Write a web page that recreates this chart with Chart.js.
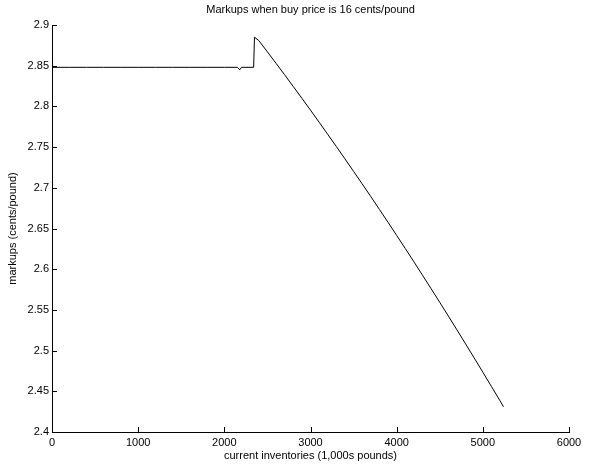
<!DOCTYPE html>
<html>
<head>
<meta charset="utf-8">
<script src="https://cdn.jsdelivr.net/npm/chart.js@4"></script>
<style>
  html, body { margin: 0; padding: 0; background: #fff; }
  #wrap { width: 592px; height: 466px; }
</style>
</head>
<body>
<div id="wrap"><canvas id="markupChart"></canvas></div>
<script>
// inventories (1,000s pounds) and markups (cents/pound)
const inventories = [
  0, 200, 400, 600, 800, 1000, 1200, 1400, 1600, 1800, 2000, 2150, 2180, 2200, 2340,
  2350, 2400, 2500, 2600, 2700, 2800, 2900, 3000, 3100, 3200, 3300, 3400, 3500,
  3600, 3700, 3800, 3900, 4000, 4100, 4200, 4300, 4400, 4500, 4600, 4700, 4800,
  4900, 5000, 5100, 5200, 5240
];
const markups = [
  2.848, 2.848, 2.848, 2.848, 2.848, 2.848, 2.848, 2.848, 2.848, 2.848, 2.848, 2.848, 2.845, 2.848, 2.848,
  2.885, 2.8809, 2.8670, 2.8529, 2.8388, 2.8244, 2.8100, 2.7954, 2.7806, 2.7657, 2.7507, 2.7355, 2.7202,
  2.7048, 2.6892, 2.6734, 2.6576, 2.6415, 2.6254, 2.6091, 2.5926, 2.5760, 2.5593, 2.5424, 2.5254, 2.5082,
  2.4909, 2.4735, 2.4559, 2.4382, 2.4310
];
const xTicks = [0, 1000, 2000, 3000, 4000, 5000, 6000];
const yTicks = [2.4, 2.45, 2.5, 2.55, 2.6, 2.65, 2.7, 2.75, 2.8, 2.85, 2.9];

const chartTitle = "Markups when buy price is 16 cents/pound";
const FONT = "'Liberation Sans', Arial, Helvetica, sans-serif";

// MATLAB style: ticks point inward, title centered over the axes
const inwardTicks = {
  id: "inwardTicks",
  afterDraw(chart) {
    const c = chart.ctx;
    const xs = chart.scales.x, ys = chart.scales.y;
    const area = chart.chartArea;
    c.save();
    c.strokeStyle = "#000";
    c.lineWidth = 1;
    c.beginPath();
    xTicks.forEach((v) => {
      const px = Math.round(xs.getPixelForValue(v)) + 0.5;
      c.moveTo(px, area.bottom);
      c.lineTo(px, area.bottom - 5);
    });
    yTicks.forEach((v) => {
      const py = Math.round(ys.getPixelForValue(v)) + 0.5;
      c.moveTo(area.left, py);
      c.lineTo(area.left + 5, py);
    });
    c.stroke();
    c.fillStyle = "#000";
    c.font = "11px " + FONT;
    c.textAlign = "center";
    c.textBaseline = "middle";
    c.fillText(chartTitle, (area.left + area.right) / 2, 10);
    c.restore();
  },
};

const ctx = document.getElementById("markupChart").getContext("2d");

const config = {
  type: "scatter",
  data: {
    datasets: [
      {
        data: inventories.map((x, i) => ({ x: x, y: markups[i] })),
        showLine: true,
        borderColor: "#000",
        borderWidth: 1,
        pointRadius: 0,
        fill: false,
        tension: 0,
      },
    ],
  },
  options: {
    responsive: true,
    maintainAspectRatio: false,
    animation: false,
    layout: { padding: { left: 0, right: 23, top: 25, bottom: 0 } },
    plugins: {
      legend: { display: false },
      title: { display: false },
      tooltip: { enabled: false },
    },
    scales: {
      x: {
        type: "linear",
        min: 0,
        max: 6000,
        afterBuildTicks: (s) => { s.ticks = xTicks.map((v) => ({ value: v })); },
        afterFit: (s) => { s.height = 34; },
        grid: { display: false, drawTicks: false },
        border: { display: true, color: "#000", width: 1 },
        ticks: {
          color: "#000",
          padding: 4,
          maxRotation: 0,
          font: { family: FONT, size: 11 },
          callback: (v) => String(v),
        },
        title: {
          display: true,
          text: "current inventories (1,000s pounds)",
          color: "#000",
          padding: { top: 0, bottom: 3 },
          font: { family: FONT, size: 11 },
        },
      },
      y: {
        type: "linear",
        min: 2.4,
        max: 2.9,
        afterBuildTicks: (s) => { s.ticks = yTicks.map((v) => ({ value: v })); },
        afterFit: (s) => { s.width = 52; },
        grid: { display: false, drawTicks: false },
        border: { display: true, color: "#000", width: 1 },
        ticks: {
          color: "#000",
          padding: 3,
          font: { family: FONT, size: 11 },
          callback: (v) => String(Number(v.toFixed(2))),
        },
        title: {
          display: true,
          text: "markups (cents/pound)",
          color: "#000",
          padding: { top: 6, bottom: 0 },
          font: { family: FONT, size: 11 },
        },
      },
    },
  },
  plugins: [inwardTicks],
};

const markupChart = new Chart(ctx, config);
</script>
</body>
</html>
